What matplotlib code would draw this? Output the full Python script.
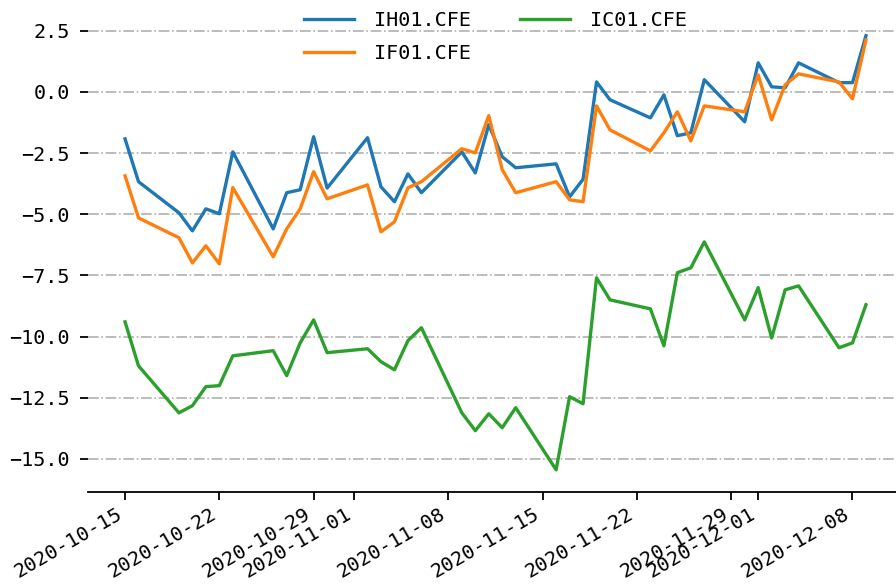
import matplotlib
matplotlib.use("Agg")
import matplotlib.pyplot as plt
import matplotlib.dates as mdates
import pandas as pd

plt.rcParams['font.family'] = ['DejaVu Sans Mono']

dates = ["2020-10-15", "2020-10-16", "2020-10-19", "2020-10-20", "2020-10-21",
         "2020-10-22", "2020-10-23", "2020-10-26", "2020-10-27", "2020-10-28",
         "2020-10-29", "2020-10-30", "2020-11-02", "2020-11-03", "2020-11-04",
         "2020-11-05", "2020-11-06", "2020-11-09", "2020-11-10", "2020-11-11",
         "2020-11-12", "2020-11-13", "2020-11-16", "2020-11-17", "2020-11-18",
         "2020-11-19", "2020-11-20", "2020-11-23", "2020-11-24", "2020-11-25",
         "2020-11-26", "2020-11-27", "2020-11-30", "2020-12-01", "2020-12-02",
         "2020-12-03", "2020-12-04", "2020-12-07", "2020-12-08", "2020-12-09"]
dates = pd.to_datetime(dates)

ih = [-1.92, -3.67, -4.94, -5.68, -4.78, -4.98, -2.45, -5.6, -4.12, -4.0,
      -1.83, -3.93, -1.87, -3.88, -4.49, -3.35, -4.12, -2.45, -3.31, -1.34,
      -2.65, -3.1, -2.94, -4.29, -3.57, 0.41, -0.32, -1.06, -0.12, -1.79,
      -1.67, 0.5, -1.22, 1.19, 0.21, 0.17, 1.19, 0.38, 0.38, 2.3]
iff = [-3.43, -5.15, -5.96, -6.99, -6.29, -7.03, -3.91, -6.74, -5.6, -4.78,
       -3.26, -4.37, -3.8, -5.72, -5.31, -3.92, -3.67, -2.32, -2.49, -0.97,
       -3.18, -4.12, -3.67, -4.41, -4.49, -0.57, -1.55, -2.41, -1.67, -0.81,
       -2.0, -0.57, -0.81, 0.7, -1.14, 0.29, 0.74, 0.41, -0.28, 2.13]
ic = [-9.40, -11.2, -13.12, -12.83, -12.05, -12.01, -10.79, -10.58, -11.6, -10.26,
      -9.32, -10.66, -10.5, -11.03, -11.36, -10.17, -9.64, -13.12, -13.85, -13.16,
      -13.73, -12.91, -15.45, -12.46, -12.75, -7.6, -8.5, -8.87, -10.38, -7.39,
      -7.19, -6.13, -9.32, -8.0, -10.06, -8.09, -7.93, -10.46, -10.26, -8.7]

fig = plt.figure(figsize=(8.96, 5.85), dpi=100)
ax = fig.add_axes([88/896, 93.5/585, 815/896, 477.5/585])

ax.plot(dates, ih, label="IH01.CFE", lw=2.4)
ax.plot(dates, iff, label="IF01.CFE", lw=2.4)
ax.plot(dates, ic, label="IC01.CFE", lw=2.4)

# old-style weekly day ticks (1, 8, 15, 22, 29)
ax.xaxis.set_major_locator(mdates.DayLocator(bymonthday=[1, 8, 15, 22, 29]))
ax.xaxis.set_major_formatter(mdates.DateFormatter('%Y-%m-%d'))

ax.grid(True, axis='y', linestyle='-.', color='#b0b0b0', lw=1.2)
ax.set_axisbelow(True)
for s in ['top', 'right', 'left']:
    ax.spines[s].set_visible(False)
ax.spines['bottom'].set_linewidth(1.3)
ax.tick_params(axis='both', labelsize=14.5, length=6, width=1.3)
ax.tick_params(axis='y', pad=7)
for lab in ax.get_xticklabels():
    lab.set_rotation(30)
    lab.set_ha('right')

ax.legend(loc='upper center', bbox_to_anchor=(0.5, 1.045), ncol=2, frameon=False,
          fontsize=14.5, handlelength=2.5, handletextpad=1.0, columnspacing=2.4,
          labelspacing=0.72)

fig.savefig("out.png", dpi=100)
